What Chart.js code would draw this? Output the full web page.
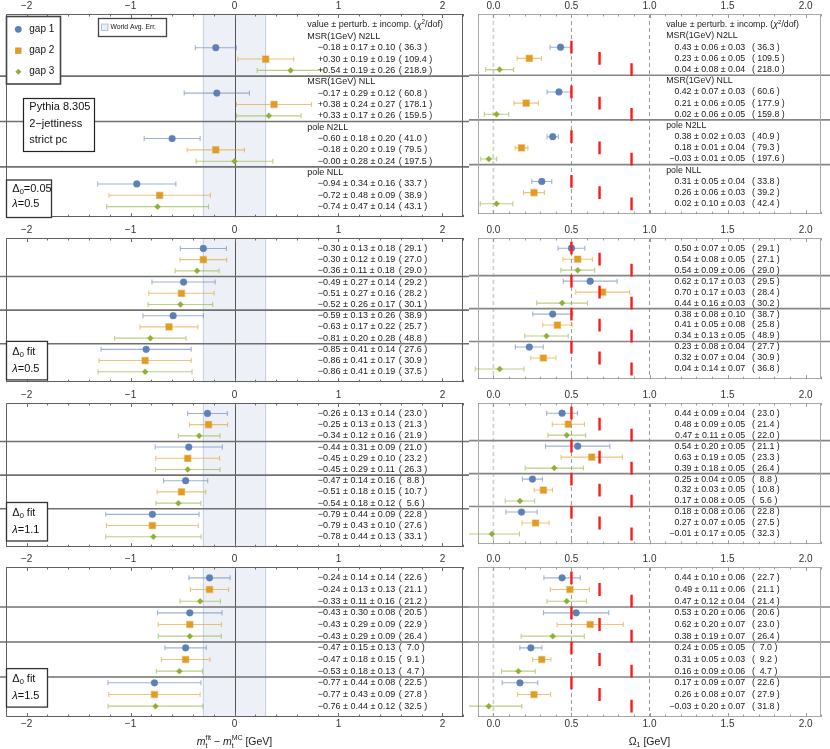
<!DOCTYPE html>
<html><head><meta charset="utf-8">
<script src="https://cdn.jsdelivr.net/npm/chart.js@4/dist/chart.umd.min.js"></script>
<style>
html,body{margin:0;padding:0;background:#fff;}
#wrap{position:relative;width:830px;height:749px;overflow:hidden;background:#fff;}
canvas{position:absolute;}
</style></head><body><div id="wrap"></div>
<script>
// ================= DATA =================
const gapNames = ['gap 1', 'gap 2', 'gap 3'];
const schemeTitles = ['MSR(1GeV) N2LL', 'MSR(1GeV) NLL', 'pole N2LL', 'pole NLL'];
const mtTicks = [-2, -1, 0, 1, 2];
const mtTickLabels = ['\u22122', '\u22121', '0', '1', '2'];
const omTicks = [0, 0.5, 1, 1.5, 2];
const omTickLabels = ['0.0', '0.5', '1.0', '1.5', '2.0'];
const worldAvgErr = 0.3;
const omegaMC = [0.5, 0.68, 0.885];
const setupLines = ['Pythia 8.305', '2\u2212jettiness', 'strict pc'];
const delta0Text = ['=0.05', ' fit', ' fit', ' fit'];
const lambdaText = ['0.5', '0.5', '1.1', '1.5'];

// block 1 : Delta0 = 0.05, lambda = 0.5  (order: scheme-major, gap-minor)
const mtValB1  = [-0.18, 0.30, 0.54, -0.17, 0.38, 0.33, -0.60, -0.18, -0.00, -0.94, -0.72, -0.74];
const mtPertB1 = [0.17, 0.19, 0.19, 0.29, 0.24, 0.17, 0.18, 0.20, 0.28, 0.34, 0.48, 0.47];
const mtIncB1  = [0.10, 0.19, 0.26, 0.12, 0.27, 0.26, 0.20, 0.19, 0.24, 0.16, 0.09, 0.14];
const mtChiB1  = [36.3, 109.4, 218.9, 60.8, 178.1, 159.5, 41.0, 79.5, 197.5, 33.7, 38.9, 43.1];
const omValB1  = [0.43, 0.23, 0.04, 0.42, 0.21, 0.02, 0.38, 0.18, -0.03, 0.31, 0.26, 0.02];
const omPertB1 = [0.06, 0.06, 0.08, 0.07, 0.06, 0.06, 0.02, 0.01, 0.01, 0.05, 0.06, 0.10];
const omIncB1  = [0.03, 0.05, 0.04, 0.03, 0.05, 0.05, 0.03, 0.04, 0.05, 0.04, 0.03, 0.03];
const omChiB1  = [36.3, 109.5, 218.0, 60.6, 177.9, 159.8, 40.9, 79.3, 197.6, 33.8, 39.2, 42.4];

// block 2 : Delta0 fit, lambda = 0.5
const mtValB2  = [-0.30, -0.30, -0.36, -0.49, -0.51, -0.52, -0.59, -0.63, -0.81, -0.85, -0.86, -0.86];
const mtPertB2 = [0.13, 0.12, 0.11, 0.27, 0.27, 0.26, 0.13, 0.17, 0.20, 0.41, 0.41, 0.41];
const mtIncB2  = [0.18, 0.19, 0.18, 0.14, 0.16, 0.17, 0.26, 0.22, 0.28, 0.14, 0.17, 0.19];
const mtChiB2  = [29.1, 27.0, 29.0, 29.2, 28.2, 30.1, 38.9, 25.7, 48.8, 27.6, 30.9, 37.5];
const omValB2  = [0.50, 0.54, 0.54, 0.62, 0.70, 0.44, 0.38, 0.41, 0.34, 0.23, 0.32, 0.04];
const omPertB2 = [0.07, 0.08, 0.09, 0.17, 0.17, 0.16, 0.08, 0.05, 0.13, 0.08, 0.07, 0.14];
const omIncB2  = [0.05, 0.05, 0.06, 0.03, 0.03, 0.03, 0.10, 0.08, 0.05, 0.04, 0.04, 0.07];
const omChiB2  = [29.1, 27.1, 29.0, 29.5, 28.4, 30.2, 38.7, 25.8, 48.9, 27.7, 30.9, 36.8];

// block 3 : Delta0 fit, lambda = 1.1
const mtValB3  = [-0.26, -0.25, -0.34, -0.44, -0.45, -0.45, -0.47, -0.51, -0.54, -0.79, -0.79, -0.78];
const mtPertB3 = [0.13, 0.13, 0.12, 0.31, 0.29, 0.29, 0.14, 0.18, 0.18, 0.44, 0.43, 0.44];
const mtIncB3  = [0.14, 0.13, 0.16, 0.09, 0.10, 0.11, 0.16, 0.15, 0.12, 0.09, 0.10, 0.13];
const mtChiB3  = [23.0, 21.3, 21.9, 21.0, 23.2, 26.3, 8.8, 10.7, 5.6, 22.8, 27.6, 33.1];
const omValB3  = [0.44, 0.48, 0.47, 0.54, 0.63, 0.39, 0.25, 0.32, 0.17, 0.18, 0.27, -0.01];
const omPertB3 = [0.09, 0.09, 0.11, 0.20, 0.19, 0.18, 0.04, 0.03, 0.08, 0.08, 0.07, 0.17];
const omIncB3  = [0.04, 0.05, 0.05, 0.05, 0.05, 0.05, 0.05, 0.05, 0.05, 0.06, 0.05, 0.05];
const omChiB3  = [23.0, 21.4, 22.0, 21.1, 23.3, 26.4, 8.8, 10.8, 5.6, 22.8, 27.5, 32.3];

// block 4 : Delta0 fit, lambda = 1.5
const mtValB4  = [-0.24, -0.24, -0.33, -0.43, -0.43, -0.43, -0.47, -0.47, -0.53, -0.77, -0.77, -0.76];
const mtPertB4 = [0.14, 0.13, 0.11, 0.30, 0.29, 0.29, 0.15, 0.18, 0.18, 0.44, 0.43, 0.44];
const mtIncB4  = [0.14, 0.13, 0.16, 0.08, 0.09, 0.09, 0.13, 0.15, 0.13, 0.08, 0.09, 0.12];
const mtChiB4  = [22.6, 21.1, 21.2, 20.5, 22.9, 26.4, 7.0, 9.1, 4.7, 22.5, 27.8, 32.5];
const omValB4  = [0.44, 0.49, 0.47, 0.53, 0.62, 0.38, 0.24, 0.31, 0.16, 0.17, 0.26, -0.03];
const omPertB4 = [0.10, 0.11, 0.12, 0.20, 0.20, 0.19, 0.05, 0.05, 0.09, 0.09, 0.08, 0.20];
const omIncB4  = [0.06, 0.06, 0.04, 0.06, 0.07, 0.07, 0.05, 0.03, 0.06, 0.07, 0.07, 0.07];
const omChiB4  = [22.7, 21.1, 21.4, 20.6, 23.0, 26.4, 7.0, 9.2, 4.7, 22.6, 27.9, 31.8];

const blocks = [
  {mt: {val: mtValB1, pert: mtPertB1, inc: mtIncB1, chi: mtChiB1}, om: {val: omValB1, pert: omPertB1, inc: omIncB1, chi: omChiB1}},
  {mt: {val: mtValB2, pert: mtPertB2, inc: mtIncB2, chi: mtChiB2}, om: {val: omValB2, pert: omPertB2, inc: omIncB2, chi: omChiB2}},
  {mt: {val: mtValB3, pert: mtPertB3, inc: mtIncB3, chi: mtChiB3}, om: {val: omValB3, pert: omPertB3, inc: omIncB3, chi: omChiB3}},
  {mt: {val: mtValB4, pert: mtPertB4, inc: mtIncB4, chi: mtChiB4}, om: {val: omValB4, pert: omPertB4, inc: omIncB4, chi: omChiB4}}
];

// ================= STYLE / LAYOUT =================
const FONT = "'Liberation Sans', Arial, Helvetica, sans-serif";
const COLORS = ['#5E81B5', '#E19C24', '#8FB032'];
const HALO = ['rgba(94,129,181,0.45)', 'rgba(225,156,36,0.45)', 'rgba(143,176,50,0.45)'];
const BAR_COLORS = ['rgba(94,129,181,0.6)', 'rgba(225,156,36,0.6)', 'rgba(143,176,50,0.6)'];
const STYLES = ['circle', 'rect', 'rectRot'];
const RADII = [3.4, 4.4, 3.0];

const blockGeo = [
  {top: 0,   height: 223, axisTop: 14, axisBottom: 0,  yMin: -2.97, yMax: 14.93, boxTop: 0},
  {top: 223, height: 165, axisTop: 15, axisBottom: 0,  yMin: -0.93, yMax: 11.93, boxTop: 103.4},
  {top: 388, height: 165, axisTop: 15, axisBottom: 0,  yMin: -0.93, yMax: 11.93, boxTop: 99.5},
  {top: 553, height: 196, axisTop: 14, axisBottom: 32, yMin: -0.93, yMax: 11.93, boxTop: 101.6}
];
const panelGeo = {
  mt: {left: 0,   width: 469, padL: 1,   padR: 1.5, min: -2.2, max: 2.2, step: 0.2, ticks: mtTicks, labels: mtTickLabels,
       frame: '#5f5f5f', tick: '#6a6a6a', sep: '#707070', tickFont: 10,
       head: 0.70, valX: 0.80, valAlign: 'left', chiX: 1.58, textSize: 9},
  om: {left: 469, width: 361, padL: 1.4, padR: 1.9, min: -0.1, max: 2.1, step: 0.1, ticks: omTicks, labels: omTickLabels,
       frame: '#a8a8a8', tick: '#9a9a9a', sep: '#858585', tickFont: 10,
       head: 1.107, valX: 1.613, valAlign: 'right', chiX: 1.656, textSize: 8.8}
};

const rowOf = (bi, g, k) => bi === 0 ? 4 * g + k : 3 * g + k;
const titleRow = g => 4 * g - 1;
const headerRow = -2;
const sepRow = (bi, g) => bi === 0 ? 4 * g - 1.5 : 3 * g - 0.5;

function fnt(size, italic) { return (italic ? 'italic ' : '') + size + 'px ' + FONT; }

function drawRich(ctx, parts, x, y, align) {
  let total = 0;
  const ws = parts.map(p => {
    let w;
    if (p.stack) {
      w = Math.max(...p.stack.map(s => { ctx.font = fnt(s.size, s.italic); return ctx.measureText(s.t).width; }));
    } else { ctx.font = fnt(p.size, p.italic); w = ctx.measureText(p.t).width; }
    total += w; return w;
  });
  let cx = align === 'center' ? x - total / 2 : (align === 'right' ? x - total : x);
  ctx.textAlign = 'left'; ctx.textBaseline = 'middle';
  parts.forEach((p, i) => {
    if (p.stack) p.stack.forEach(s => { ctx.font = fnt(s.size, s.italic); ctx.fillText(s.t, cx, y + (s.dy || 0)); });
    else { ctx.font = fnt(p.size, p.italic); ctx.fillText(p.t, cx, y + (p.dy || 0)); }
    cx += ws[i];
  });
}

function fmtSigned(v) { return ((v < 0 || Object.is(v, -0)) ? '\u2212' : '+') + Math.abs(v).toFixed(2); }
function fmtPlain(v) { return ((v < 0 || Object.is(v, -0)) ? '\u2212' : '') + Math.abs(v).toFixed(2); }
function fmtChi(c) { return '( ' + (c < 10 ? ' ' : '') + c.toFixed(1) + ' )'; }

function tickLabel(pg, v) {
  const i = pg.ticks.findIndex(t => Math.abs(t - v) < 1e-6);
  return i >= 0 ? pg.labels[i] : '';
}

function drawMarker(ctx, k, x, y) {
  ctx.fillStyle = COLORS[k];
  ctx.beginPath();
  if (k === 0) ctx.arc(x, y, 3.4, 0, Math.PI * 2);
  else if (k === 1) ctx.rect(x - 3.2, y - 3.2, 6.4, 6.4);
  else { ctx.moveTo(x, y - 3); ctx.lineTo(x + 3, y); ctx.lineTo(x, y + 3); ctx.lineTo(x - 3, y); ctx.closePath(); }
  ctx.fill();
}

function makePlugin(bi, panel) {
  const d = blocks[bi][panel];
  const pg = panelGeo[panel];
  return {
    id: 'deco',
    beforeDatasetsDraw(chart) {
      const ctx = chart.ctx, a = chart.chartArea, xs = chart.scales.x, ys = chart.scales.y;
      ctx.save();
      const vline = (px, color, width, dash) => {
        ctx.strokeStyle = color; ctx.lineWidth = width; ctx.setLineDash(dash || []);
        ctx.beginPath(); ctx.moveTo(px, a.top); ctx.lineTo(px, a.bottom); ctx.stroke();
        ctx.setLineDash([]);
      };
      if (panel === 'mt') {
        const x0 = xs.getPixelForValue(-worldAvgErr), x1 = xs.getPixelForValue(worldAvgErr);
        ctx.fillStyle = 'rgba(94,129,181,0.11)';
        ctx.fillRect(x0, a.top, x1 - x0, a.bottom - a.top);
        vline(x0, 'rgba(94,129,181,0.35)', 1);
        vline(x1, 'rgba(94,129,181,0.35)', 1);
        vline(Math.round(xs.getPixelForValue(0)) + 0.5, '#555', 1);
      } else {
        vline(xs.getPixelForValue(0), '#cfcfcf', 1.6, [4, 3]);
        vline(xs.getPixelForValue(0.5), '#9a9a9a', 1, [4, 3]);
        vline(xs.getPixelForValue(1.0), '#9a9a9a', 1, [4, 3]);
      }
      // group separators
      ctx.strokeStyle = pg.sep; ctx.lineWidth = 1.6;
      for (let g = 1; g < 4; g++) {
        const py = ys.getPixelForValue(sepRow(bi, g));
        ctx.beginPath(); ctx.moveTo(0, py); ctx.lineTo(chart.width, py); ctx.stroke();
      }
      // frame
      ctx.strokeStyle = pg.frame; ctx.lineWidth = 1;
      ctx.strokeRect(Math.round(a.left) + 0.5, Math.round(a.top) + 0.5, Math.round(a.right) - Math.round(a.left) - 1, Math.round(a.bottom) - Math.round(a.top) - 1);
      // inward tick marks
      ctx.strokeStyle = pg.tick; ctx.lineWidth = 1;
      xs.ticks.forEach(t => {
        const px = Math.round(xs.getPixelForValue(t.value)) + 0.5;
        const major = tickLabel(pg, t.value) !== '';
        const len = major ? 4 : 2.5;
        ctx.beginPath();
        ctx.moveTo(px, a.top); ctx.lineTo(px, a.top + len);
        ctx.moveTo(px, a.bottom); ctx.lineTo(px, a.bottom - len);
        ctx.stroke();
      });
      // error bars (total = perturbative and incompatibility in quadrature)
      chart.data.datasets.forEach((ds, i) => {
        if (ds.gap === undefined) return;
        ctx.strokeStyle = BAR_COLORS[ds.gap]; ctx.lineWidth = 1.1;
        ds.data.forEach((p, j) => {
          const e = ds.err[j];
          const xa = xs.getPixelForValue(p.x - e), xb = xs.getPixelForValue(p.x + e), py = ys.getPixelForValue(p.y);
          ctx.beginPath();
          ctx.moveTo(xa, py); ctx.lineTo(xb, py);
          ctx.moveTo(xa, py - 2.5); ctx.lineTo(xa, py + 2.5);
          ctx.moveTo(xb, py - 2.5); ctx.lineTo(xb, py + 2.5);
          ctx.stroke();
        });
      });
      ctx.restore();
    },
    afterDatasetsDraw(chart) {
      const ctx = chart.ctx, a = chart.chartArea, xs = chart.scales.x, ys = chart.scales.y;
      ctx.save();
      ctx.fillStyle = '#1a1a1a';
      const ts = pg.textSize;
      if (bi === 0) {
        drawRich(ctx, [{t: 'value \u00b1 perturb. \u00b1 incomp. (', size: ts}, {t: '\u03c7', size: ts, italic: true},
                       {t: '2', size: ts * 0.7, dy: -3}, {t: '/dof)', size: ts}],
                 xs.getPixelForValue(pg.head), ys.getPixelForValue(headerRow), 'left');
        for (let g = 0; g < 4; g++) {
          drawRich(ctx, [{t: schemeTitles[g], size: ts}], xs.getPixelForValue(pg.head), ys.getPixelForValue(titleRow(g)), 'left');
        }
      }
      for (let g = 0; g < 4; g++) for (let k = 0; k < 3; k++) {
        const idx = 3 * g + k;
        const py = ys.getPixelForValue(rowOf(bi, g, k));
        const v = panel === 'mt' ? fmtSigned(d.val[idx]) : fmtPlain(d.val[idx]);
        const txt = v + ' \u00b1 ' + d.pert[idx].toFixed(2) + ' \u00b1 ' + d.inc[idx].toFixed(2);
        drawRich(ctx, [{t: txt, size: ts}], xs.getPixelForValue(pg.valX), py, pg.valAlign);
        drawRich(ctx, [{t: fmtChi(d.chi[idx]), size: ts}], xs.getPixelForValue(pg.chiX), py, 'left');
      }
      // annotation boxes (left panel)
      if (panel === 'mt') {
        const box = (x, y, w, h, color, lw) => {
          ctx.fillStyle = '#fff'; ctx.fillRect(x, y, w, h);
          ctx.strokeStyle = color; ctx.lineWidth = lw; ctx.strokeRect(x, y, w, h);
          ctx.fillStyle = '#111';
        };
        const top = a.top;
        if (bi === 0) {
          // legend
          box(6.5, 16.5, 54, 67.5, '#444', 1.6);
          const ly = [29.3, 50.7, 71.7];
          for (let k = 0; k < 3; k++) {
            drawMarker(ctx, k, 18.3, ly[k]);
            ctx.fillStyle = '#111';
            drawRich(ctx, [{t: gapNames[k], size: 10}], 29.3, ly[k], 'left');
          }
          // world average error key
          box(98.5, 18.5, 68, 18, '#444', 1.3);
          ctx.fillStyle = 'rgba(94,129,181,0.13)'; ctx.fillRect(101.5, 24, 6.5, 6.5);
          ctx.strokeStyle = 'rgba(94,129,181,0.45)'; ctx.lineWidth = 1; ctx.strokeRect(101.5, 24, 6.5, 6.5);
          ctx.fillStyle = '#111';
          drawRich(ctx, [{t: 'World Avg. Err.', size: 6.8}], 110.5, 27.5, 'left');
          // setup box
          box(23.5, 98.5, 71, 53, '#222', 1.2);
          const sy = [107, 123.5, 140];
          setupLines.forEach((s, i) => drawRich(ctx, [{t: s, size: 11}], 29.3, sy[i], 'left'));
          // parameters
          box(6.5, 180, 45, 37.5, '#333', 1.3);
          drawRich(ctx, [{t: '\u0394', size: 11}, {t: '0', size: 7.5, dy: 3}, {t: delta0Text[0], size: 11}], 12.3, 189.3, 'left');
          drawRich(ctx, [{t: '\u03bb', size: 11, italic: true}, {t: '=' + lambdaText[0], size: 11}], 12.3, 204.3, 'left');
        } else {
          const by = top + blockGeo[bi].boxTop;
          box(6.5, by, 41, 38.5, '#333', 1.3);
          drawRich(ctx, [{t: '\u0394', size: 11}, {t: '0', size: 7.5, dy: 3}, {t: delta0Text[bi], size: 11}], 12.3, by + 10.7, 'left');
          drawRich(ctx, [{t: '\u03bb', size: 11, italic: true}, {t: '=' + lambdaText[bi], size: 11}], 12.3, by + 27.5, 'left');
        }
      }
      ctx.restore();
    },
    afterDraw(chart) {
      if (bi !== 3) return;
      const ctx = chart.ctx, xs = chart.scales.x;
      ctx.save(); ctx.fillStyle = '#1a1a1a';
      const y = chart.height - 6.5;
      if (panel === 'mt') {
        drawRich(ctx, [
          {t: 'm', size: 10.5, italic: true},
          {stack: [{t: 'fit', size: 7, dy: -4}, {t: 't', size: 7, dy: 3.5}]},
          {t: ' \u2212 ', size: 10.5},
          {t: 'm', size: 10.5, italic: true},
          {stack: [{t: 'MC', size: 7, dy: -4}, {t: 't', size: 7, dy: 3.5}]},
          {t: ' [GeV]', size: 10.5}
        ], xs.getPixelForValue(0), y, 'center');
      } else {
        drawRich(ctx, [{t: '\u03a9', size: 10.5}, {t: '1', size: 7, dy: 3}, {t: ' [GeV]', size: 10.5}],
                 xs.getPixelForValue(1.0), y, 'center');
      }
      ctx.restore();
    }
  };
}

const wrap = document.getElementById('wrap');

function makeChart(bi, panel) {
  const geo = blockGeo[bi], pg = panelGeo[panel], d = blocks[bi][panel];
  const canvas = document.createElement('canvas');
  canvas.width = pg.width; canvas.height = geo.height;
  canvas.style.left = pg.left + 'px'; canvas.style.top = geo.top + 'px';
  canvas.style.width = pg.width + 'px'; canvas.style.height = geo.height + 'px';
  wrap.appendChild(canvas);

  const datasets = [0, 1, 2].map(k => ({
    label: gapNames[k],
    gap: k,
    data: [0, 1, 2, 3].map(g => ({x: d.val[3 * g + k], y: rowOf(bi, g, k)})),
    err: [0, 1, 2, 3].map(g => Math.hypot(d.pert[3 * g + k], d.inc[3 * g + k])),
    showLine: false,
    pointStyle: STYLES[k],
    pointRadius: RADII[k],
    pointHoverRadius: RADII[k],
    pointBackgroundColor: COLORS[k],
    pointBorderColor: HALO[k],
    pointBorderWidth: k === 1 ? 1.4 : 0.8,
    order: 2
  }));
  if (panel === 'om') {
    datasets.unshift({
      label: 'MC',
      data: [0, 1, 2, 3].flatMap(g => [0, 1, 2].map(k => ({x: omegaMC[k], y: rowOf(bi, g, k)}))),
      showLine: false,
      pointStyle: 'line',
      pointRotation: 90,
      pointRadius: 6.4,
      pointHoverRadius: 6.4,
      pointBorderColor: '#ff1a1a',
      pointBackgroundColor: '#ff1a1a',
      pointBorderWidth: 2.4,
      order: 0
    });
  }
  const tickCfg = (pad) => ({
    stepSize: pg.step, autoSkip: false, maxRotation: 0, minRotation: 0, padding: pad,
    color: '#333', font: {family: FONT, size: pg.tickFont},
    callback: v => tickLabel(pg, v)
  });
  const scales = {
    x: {type: 'linear', position: 'top', min: pg.min, max: pg.max,
        grid: {display: false, drawTicks: false}, border: {display: false}, ticks: tickCfg(1.5),
        afterFit: s => { s.height = geo.axisTop; }},
    y: {type: 'linear', reverse: true, min: geo.yMin, max: geo.yMax, display: false}
  };
  if (geo.axisBottom) {
    scales.xb = {type: 'linear', position: 'bottom', min: pg.min, max: pg.max,
        grid: {display: false, drawTicks: false}, border: {display: false}, ticks: tickCfg(1.3),
        afterFit: s => { s.height = geo.axisBottom; }};
  }
  new Chart(canvas, {
    type: 'scatter',
    data: {datasets},
    options: {
      responsive: false, animation: false, devicePixelRatio: 1, events: [],
      layout: {padding: {left: pg.padL, right: pg.padR, top: 0, bottom: 0}},
      plugins: {legend: {display: false}, tooltip: {enabled: false}},
      scales
    },
    plugins: [makePlugin(bi, panel)]
  });
}

for (let bi = 0; bi < 4; bi++) { makeChart(bi, 'mt'); makeChart(bi, 'om'); }
</script>
</body></html>
